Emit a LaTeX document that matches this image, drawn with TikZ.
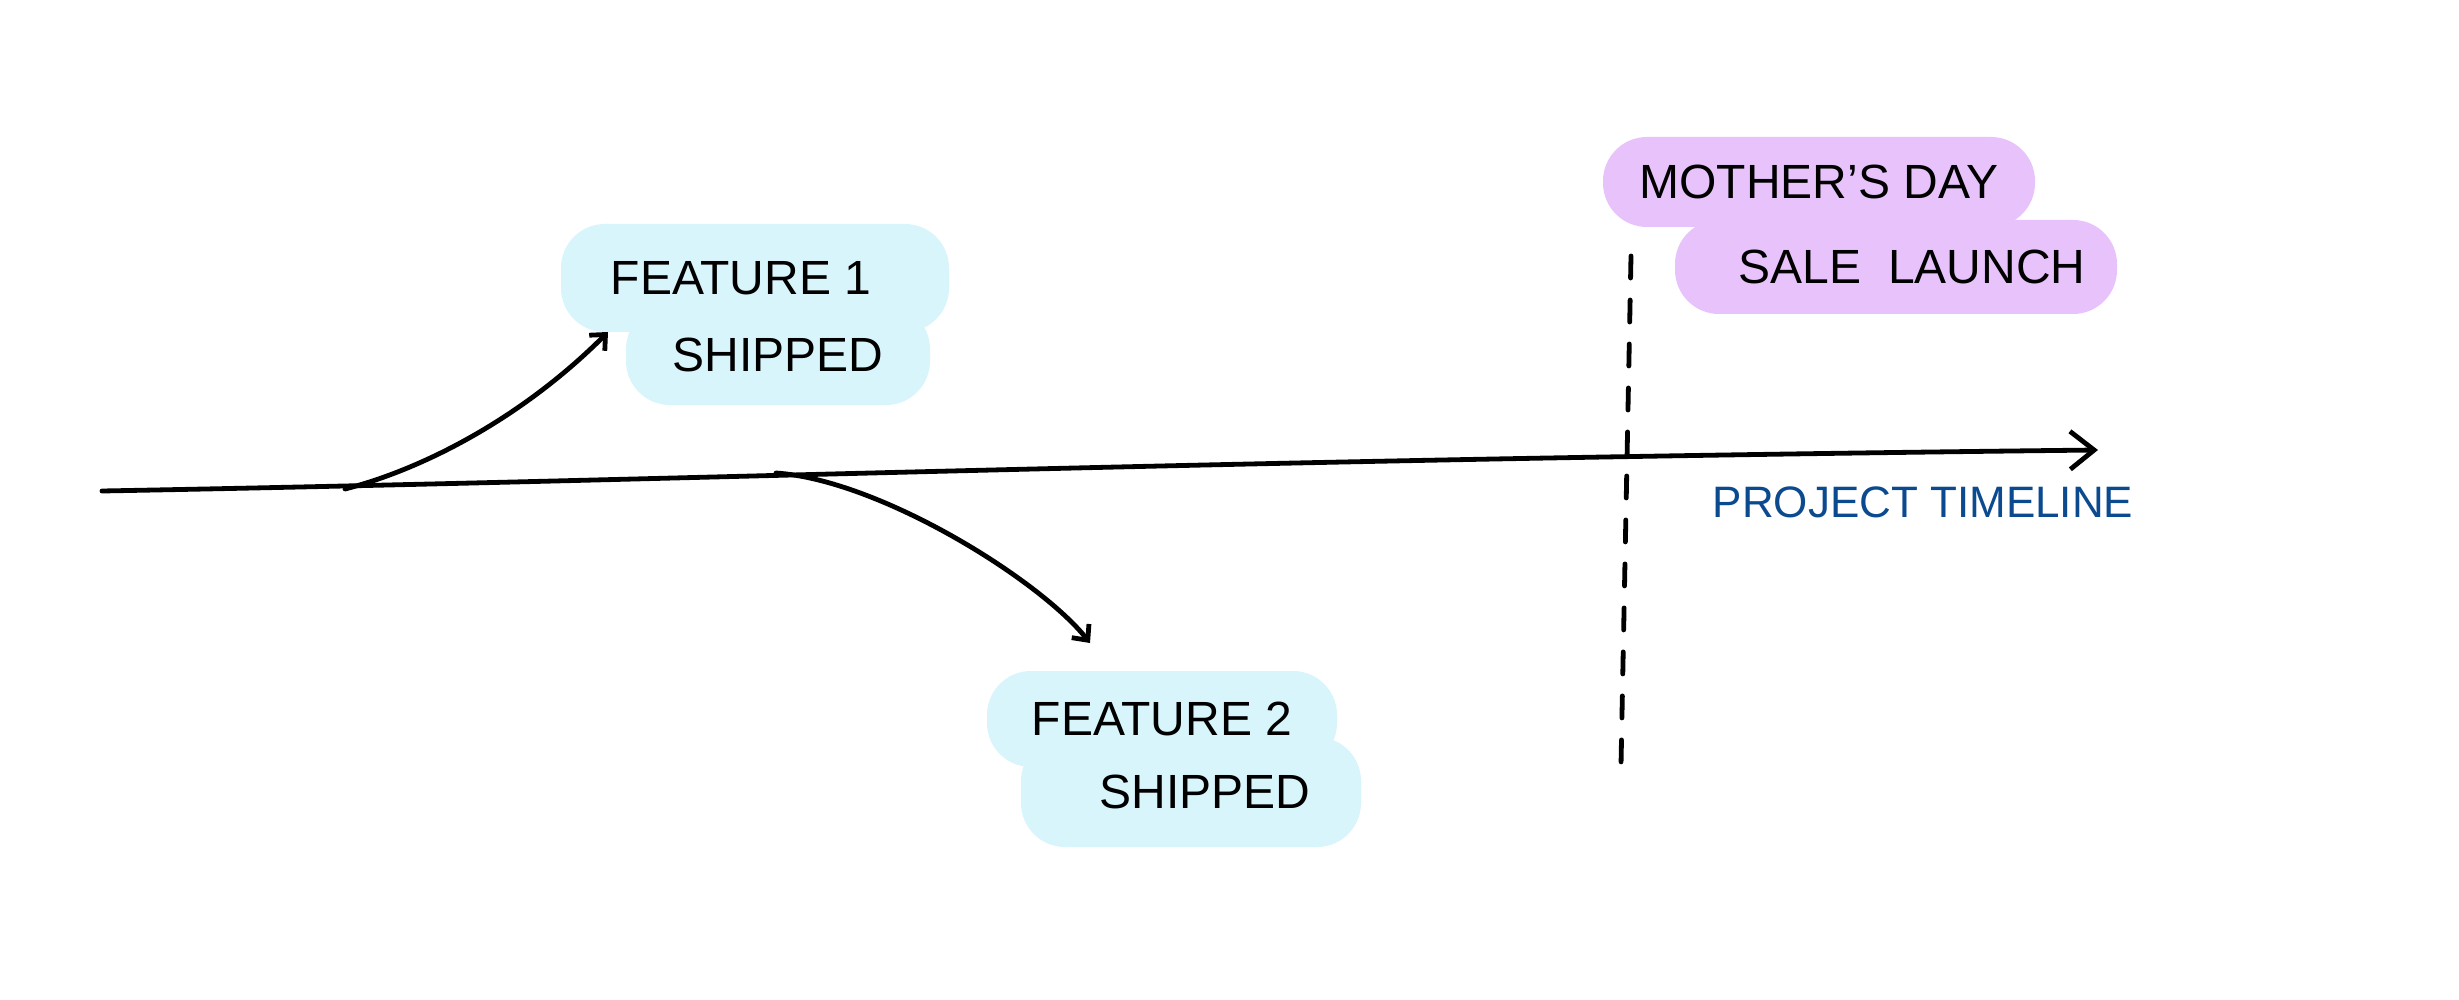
\documentclass[tikz,border=0pt]{standalone}
\usepackage{fontspec}
\setmainfont{Liberation Sans}
\usetikzlibrary{arrows.meta}
\definecolor{tlCyan}{HTML}{D9F5FC}
\definecolor{tlLilac}{HTML}{E8C3FB}
\definecolor{tlBlue}{HTML}{0C4A90}

\begin{document}
\begin{tikzpicture}[x=0.5pt, y=-0.5pt,
  every node/.style={align=center, font=\fontsize{24}{28}\selectfont, inner sep=0pt},
  feat/.style={fill=tlCyan, rounded corners=22pt},
  sale/.style={fill=tlLilac, rounded corners=22pt},
  line/.style={line width=2.4pt, line cap=round, black},
  pipe/.style={line, -{Straight Barb[length=6pt, width=11pt]}},
  mpipe/.style={line, -{Straight Barb[length=12pt, width=19pt]}},
  dline/.style={line, dash pattern=on 11pt off 11pt},
]
  \fill[white] (0,0) rectangle (2459,1000);
  \useasboundingbox (0,0) rectangle (2459,1000);

  % highlighted notes
  \node[feat, minimum width=194pt, minimum height=54pt] (f1a) at (755,278) {FEATURE 1\hspace{14pt}};
  \node[feat, minimum width=152pt, minimum height=50pt] (f1b) at (778,355) {SHIPPED};
  \node[feat, minimum width=175pt, minimum height=48pt] (f2a) at (1162,719) {FEATURE 2};
  \node[feat, minimum width=170pt, minimum height=55pt] (f2b) at (1191,792) {\hspace{14pt}SHIPPED};
  \node[sale, minimum width=216pt, minimum height=45pt] (m1) at (1819,182) {MOTHER'S DAY};
  \node[sale, minimum width=221pt, minimum height=47pt] (m2) at (1896,267) {\hspace{16pt}SALE\ \ LAUNCH};
  \node[text=tlBlue, font=\fontsize{22}{26}\selectfont] (tl) at (1923,502) {PROJECT TIMELINE};

  % timeline
  \coordinate (tstart) at (102,491);
  \coordinate (tend) at (2098,450);
  \coordinate (b1) at (345,489);
  \coordinate (b2) at (776,473);
  \coordinate (f1tip) at (608,332);
  \coordinate (f2tip) at (1090,643);
  \coordinate (dtop) at (1631,256);
  \coordinate (dbot) at (1621,765);

  \draw[mpipe] (tstart) .. controls (700,480) and (1200,460) .. (tend);
  \draw[pipe] (b1) .. controls (420,470) and (520,420) .. (f1tip);
  \draw[pipe] (b2) .. controls (880,480) and (1040,580) .. (f2tip);
  \draw[dline] (dtop) -- (dbot);
\end{tikzpicture}
\end{document}
